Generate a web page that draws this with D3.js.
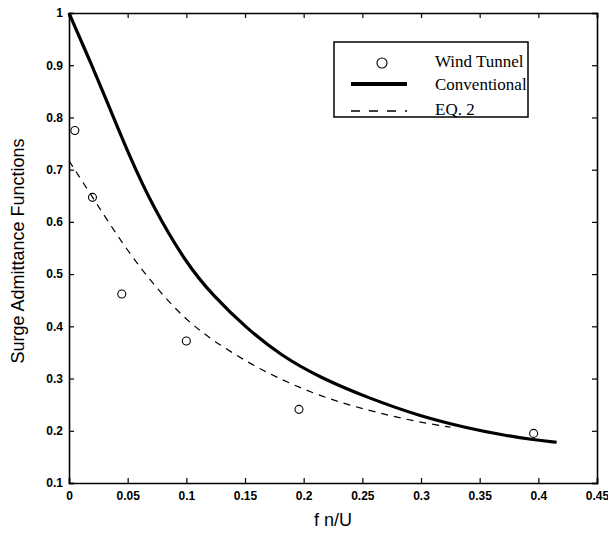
<!DOCTYPE html>
<html>
<head>
<meta charset="utf-8">
<script src="https://cdn.jsdelivr.net/npm/d3@7"></script>
<style>
  body { margin: 0; background: #fff; }
  svg { display: block; }
  .tick text { font-family: "Liberation Sans", Arial, sans-serif; font-size: 12px; font-weight: bold; }
</style>
</head>
<body>
<div id="chart"></div>
<script>
// wind tunnel measurements
var tunnelX = [0.005, 0.02, 0.045, 0.1, 0.196, 0.396];
var tunnelY = [0.775, 0.647, 0.462, 0.372, 0.241, 0.195];

// conventional admittance
var convX = [0, 0.0185, 0.0343, 0.0513, 0.0712, 0.1, 0.123, 0.151, 0.18, 0.2136, 0.256, 0.299, 0.34, 0.367, 0.395, 0.4156];
var convY = [1.0, 0.905, 0.82, 0.727, 0.63, 0.52, 0.458, 0.397, 0.345, 0.302, 0.262, 0.228, 0.205, 0.193, 0.183, 0.178];

// EQ. 2
var eqX = [0, 0.0207, 0.049, 0.0774, 0.1, 0.123, 0.151, 0.174, 0.2136, 0.256, 0.299, 0.325];
var eqY = [0.717, 0.645, 0.546, 0.465, 0.412, 0.372, 0.333, 0.305, 0.266, 0.238, 0.216, 0.207];

var xTicks = [0, 0.05, 0.1, 0.15, 0.2, 0.25, 0.3, 0.35, 0.4, 0.45];
var yTicks = [0.1, 0.2, 0.3, 0.4, 0.5, 0.6, 0.7, 0.8, 0.9, 1];
var legendNames = ["Wind Tunnel", "Conventional", "EQ. 2"];

var W = 608, H = 534;
var margin = {left: 69, top: 13, right: 11, bottom: 51};
var width = W - margin.left - margin.right,
    height = H - margin.top - margin.bottom;

var x = d3.scaleLinear().domain([0, 0.45]).range([0, width]);
var y = d3.scaleLinear().domain([0.1, 1]).range([height, 0]);

var svg = d3.select("#chart").append("svg")
    .attr("width", W)
    .attr("height", H)
  .append("g")
    .attr("transform", "translate(" + margin.left + "," + margin.top + ")");

function fmt(d) { return d3.format("")(+d.toFixed(2)); }

// AXES (ticks inside, on all four sides)
svg.append("g")
    .attr("transform", "translate(0," + height + ")")
    .call(d3.axisBottom(x).tickValues(xTicks).tickSize(-5).tickPadding(8).tickFormat(fmt));
svg.append("g")
    .call(d3.axisTop(x).tickValues(xTicks).tickSize(-5).tickFormat(""));
svg.append("g")
    .call(d3.axisLeft(y).tickValues(yTicks).tickSize(-5).tickPadding(6).tickFormat(fmt));
svg.append("g")
    .attr("transform", "translate(" + width + ",0)")
    .call(d3.axisRight(y).tickValues(yTicks).tickSize(-5).tickFormat(""));

svg.selectAll(".domain").attr("stroke", "#000").attr("stroke-width", 1.6);
svg.selectAll(".tick line").attr("stroke", "#000").attr("stroke-width", 1.2);

// LINES
var line = d3.line()
    .x(function(d) { return x(d[0]); })
    .y(function(d) { return y(d[1]); })
    .curve(d3.curveBasis);

svg.append("path")
    .datum(d3.zip(convX, convY))
    .attr("fill", "none")
    .attr("stroke", "#000")
    .attr("stroke-width", 3.2)
    .attr("d", line);

svg.append("path")
    .datum(d3.zip(eqX, eqY))
    .attr("fill", "none")
    .attr("stroke", "#000")
    .attr("stroke-width", 1.2)
    .attr("stroke-dasharray", "7,6")
    .attr("d", line);

svg.selectAll("circle.pt")
    .data(d3.zip(tunnelX, tunnelY))
  .enter().append("circle")
    .attr("class", "pt")
    .attr("cx", function(d) { return x(d[0]); })
    .attr("cy", function(d) { return y(d[1]); })
    .attr("r", 4)
    .attr("fill", "none")
    .attr("stroke", "#000")
    .attr("stroke-width", 1.1);

// AXIS TITLES
svg.append("text")
    .attr("x", width / 2)
    .attr("y", height + 43)
    .attr("text-anchor", "middle")
    .style("font-family", "Liberation Sans, Arial, sans-serif")
    .style("font-size", "18px")
    .text("f n/U");

svg.append("text")
    .attr("transform", "translate(" + (-45) + "," + (height / 2 + 3) + ") rotate(-90)")
    .attr("text-anchor", "middle")
    .style("font-family", "Liberation Sans, Arial, sans-serif")
    .style("font-size", "18px")
    .text("Surge Admittance Functions");

// LEGEND
var lg = svg.append("g").attr("transform", "translate(" + (334 - margin.left) + "," + (42 - margin.top) + ")");
lg.append("rect")
    .attr("width", 194).attr("height", 75)
    .attr("fill", "#fff").attr("stroke", "#000").attr("stroke-width", 1.5);

var rowY = [21, 42, 69];
lg.append("circle").attr("cx", 48).attr("cy", rowY[0]).attr("r", 5)
    .attr("fill", "none").attr("stroke", "#000").attr("stroke-width", 1.1);
lg.append("line").attr("x1", 17).attr("x2", 73).attr("y1", rowY[1]).attr("y2", rowY[1])
    .attr("stroke", "#000").attr("stroke-width", 4);
lg.append("line").attr("x1", 17).attr("x2", 73).attr("y1", rowY[2]).attr("y2", rowY[2])
    .attr("stroke", "#000").attr("stroke-width", 1.3).attr("stroke-dasharray", "9,9");

var textY = [25, 48, 73];
lg.selectAll("text.lab")
    .data(legendNames)
  .enter().append("text")
    .attr("class", "lab")
    .attr("x", 101)
    .attr("y", function(d, i) { return textY[i]; })
    .style("font-family", "Liberation Serif, Times New Roman, serif")
    .style("font-size", "17px")
    .text(function(d) { return d; });
</script>
</body>
</html>
